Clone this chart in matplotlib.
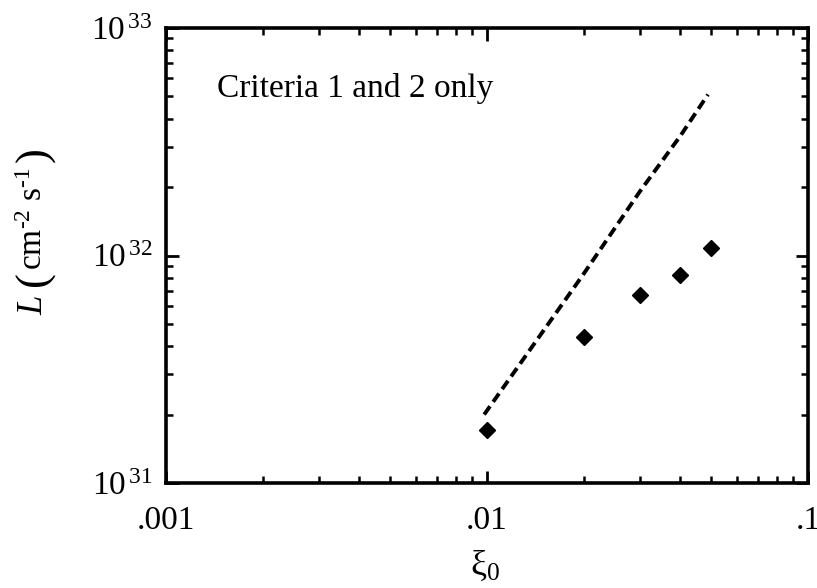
import matplotlib
matplotlib.use("Agg")
import matplotlib.pyplot as plt
from matplotlib.ticker import LogLocator, FixedLocator, FixedFormatter, NullFormatter

plt.rcParams['font.family'] = ['Liberation Serif', 'DejaVu Serif']
plt.rcParams['mathtext.fontset'] = 'custom'
plt.rcParams['mathtext.rm'] = 'Liberation Serif'
plt.rcParams['mathtext.it'] = 'Liberation Serif:italic'
plt.rcParams['mathtext.bf'] = 'Liberation Serif:bold'

# data
xi_points = [0.01, 0.02, 0.03, 0.04, 0.05]
L_points = [1.71e31, 4.4e31, 6.7e31, 8.2e31, 1.08e32]
xi_line = [0.0098, 0.02, 0.03, 0.04, 0.0488]
L_line = [2.0e31, 8.3e31, 1.92e32, 3.35e32, 5.1e32]

x_ticks = [0.001, 0.01, 0.1]
x_ticklabels = ['.001', '.01', '.1']
y_ticks = [1e31, 1e32, 1e33]
y_ticklabels = [r'$10^{\,31}$', r'$10^{\,32}$', r'$10^{\,33}$']

W, H = 817, 588
fig = plt.figure(figsize=(W/100, H/100), dpi=100)
ax = fig.add_axes([166/W, 1-483/H, (808-166)/W, (483-28)/H])

ax.plot(xi_line, L_line, color='black', lw=2.8, linestyle=(0, (2.6, 1.4)),
        dash_capstyle='butt')
ax.plot(xi_points, L_points, linestyle='none', marker='D', markersize=8.2,
        color='black', markeredgewidth=1.0, markeredgecolor='black')

ax.set_xscale('log')
ax.set_yscale('log')
ax.set_xlim(0.001, 0.1)
ax.set_ylim(1e31, 1e33)

ax.xaxis.set_major_locator(FixedLocator(x_ticks))
ax.xaxis.set_major_formatter(FixedFormatter(x_ticklabels))
ax.yaxis.set_major_locator(FixedLocator(y_ticks))
ax.yaxis.set_major_formatter(FixedFormatter(y_ticklabels))
ax.xaxis.set_minor_locator(LogLocator(base=10, subs=range(2, 10)))
ax.yaxis.set_minor_locator(LogLocator(base=10, subs=range(2, 10)))
ax.xaxis.set_minor_formatter(NullFormatter())
ax.yaxis.set_minor_formatter(NullFormatter())

for s in ax.spines.values():
    s.set_linewidth(2.6)

ax.tick_params(which='both', direction='in', top=True, right=True, color='black')
ax.tick_params(which='major', length=9, width=2.0, labelsize=24)
ax.tick_params(which='minor', length=5, width=1.8)
ax.tick_params(axis='x', which='major', pad=16)
ax.tick_params(axis='y', which='major', pad=10)

# y-axis label built from pieces (large parentheses as in the reference)
bx = 42 / W
kw = dict(rotation=90, rotation_mode='anchor', ha='center', va='baseline')
fig.text(bx, 1 - 305/H, r'$L$', fontsize=25, **kw)
fig.text(bx + 4/W, 1 - 279/H, '(', fontsize=32, **kw)
fig.text(bx, 1 - 219/H, r'$\mathrm{cm^{\text{-}2}\ s^{\text{-}1}}$', fontsize=24, **kw)
fig.text(bx + 4/W, 1 - 155/H, ')', fontsize=32, **kw)

ax.set_xlabel(r'$\mathrm{\xi}_0$', fontsize=26)
ax.xaxis.set_label_coords(0.497, -0.145)

ax.text((217-166)/642, (483-97)/455, 'Criteria 1 and 2 only', transform=ax.transAxes,
        fontsize=24, ha='left', va='baseline')

fig.savefig('out.png', dpi=100)
